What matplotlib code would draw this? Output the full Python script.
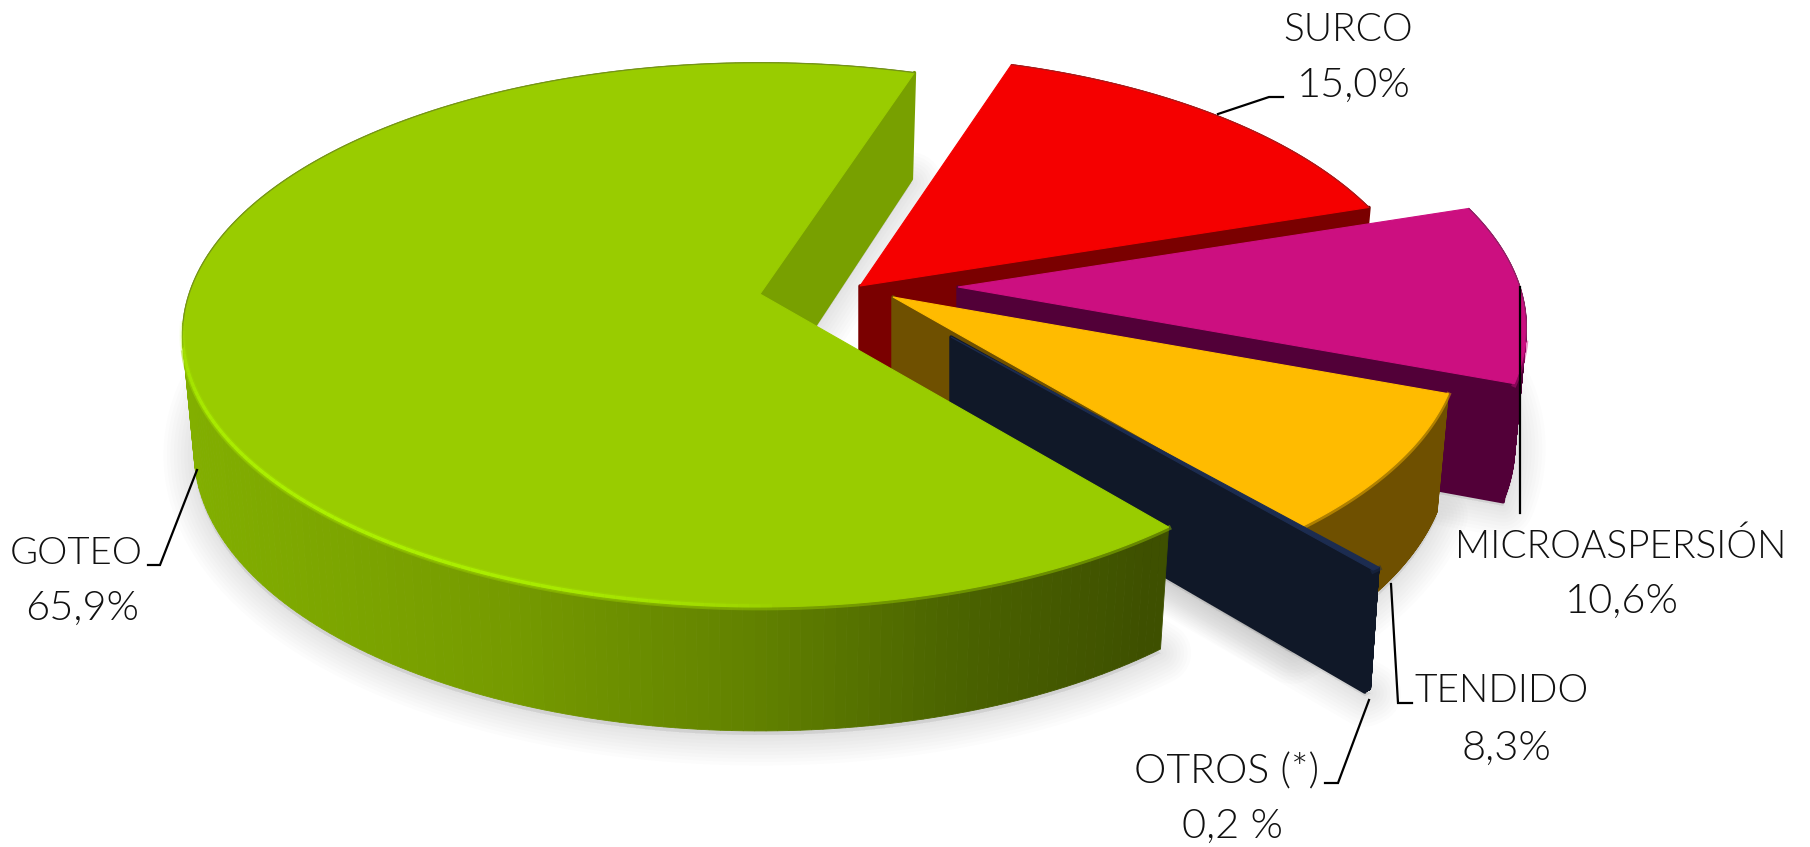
import numpy as np
import matplotlib
matplotlib.use('Agg')
import matplotlib.pyplot as plt
from matplotlib.patches import Polygon

# Data
names = ['SURCO', 'MICROASPERSIÓN', 'TENDIDO', 'OTROS (*)', 'GOTEO']
values = [15.0, 10.6, 8.3, 0.2, 65.9]
value_labels = ['15,0%', '10,6%', '8,3%', '0,2 %', '65,9%']

# Pie layout (pixels), one exploded apex per slice
start_angle = 18.0
apex_x = [860, 958, 893, 951, 760]
apex_y = [286, 287, 297, 337, 294]
radius = [560, 562, 561, 590, 571]
tilt = 266.0
persp = 0.15
bottom_scale = 0.98

top_colors = ['#f50000', '#cc0f80', '#ffbb00', '#1c2c50', '#99cc00']
wall_colors = ['#7a0000', '#520038', '#6f5000', '#101828', '#78a000']

# Goteo outer wall gets a left to right gradient
grad_x = [182, 500, 750, 950, 1150]
grad_r = [130, 118, 98, 75, 62]
grad_g = [175, 155, 130, 100, 80]

# Label anchors and leader lines
name_pos = [(1348, 30), (1621, 547), (1502, 691), (1227, 772), (76, 554)]
value_pos = [(1354, 85), (1622, 601), (1506, 748), (1232, 826), (82, 608)]
name_sizes = [28, 28, 28, 29.5, 27.5]
leaders = [
    [(1218, 114), (1269, 97), (1283, 97)],
    [(1520, 287), (1520, 513)],
    [(1391, 584), (1398, 703), (1412, 703)],
    [(1369, 700), (1338, 783), (1325, 783)],
    [(197, 470), (160, 565), (148, 565)],
]


def project(i, theta):
    # clockwise angle from the back of the pie, with a bit of perspective
    t = np.radians(theta)
    u, v = np.sin(t), np.cos(t)
    w = 1 / (1 + persp * v)
    x = apex_x[i] + radius[i] * u * w
    y = apex_y[i] - tilt * v * w
    return x, y


def depth(theta):
    return 115 - 9 * np.cos(np.radians(theta))


def lower(i, x):
    # bottom face is a little smaller than the top
    return apex_x[i] + (x - apex_x[i]) * bottom_scale


fig = plt.figure(figsize=(18.10, 8.47), dpi=100)
ax = fig.add_axes([0, 0, 1, 1])
ax.set_xlim(0, 1810)
ax.set_ylim(847, 0)
ax.axis('off')

# slice angles from the values
spans = np.array(values) * 3.6
ends = start_angle + np.cumsum(spans)
starts = ends - spans

# soft shadow, drawn first
for i in range(5):
    th = np.linspace(starts[i], ends[i], 150)
    x, y = project(i, th)
    xs = np.r_[apex_x[i], lower(i, x)]
    ys = np.r_[apex_y[i] + 115, y + depth(th)] + 4
    for lw in range(44, 3, -5):
        ax.add_patch(Polygon(np.c_[xs, ys], closed=True, fc=(.55, .55, .55, .022), ec=(.55, .55, .55, .022),
                             lw=lw, joinstyle='round', zorder=1))

for i in range(5):
    z = 2 + i
    th = np.linspace(starts[i], ends[i], 240)
    x, y = project(i, th)
    d = depth(th)
    xb = lower(i, x)

    # outer wall
    for k in range(len(th) - 1):
        if i == 4:
            xm = (x[k] + x[k + 1]) / 2
            col = (np.interp(xm, grad_x, grad_r) / 255, np.interp(xm, grad_x, grad_g) / 255, 0)
        else:
            col = wall_colors[i]
        ax.fill([x[k], x[k + 1], xb[k + 1], xb[k]], [y[k], y[k + 1], y[k + 1] + d[k + 1], y[k] + d[k]],
                color=col, lw=0.6, zorder=z)

    # cut face at the clockwise end of the slice
    ax.add_patch(Polygon([(apex_x[i], apex_y[i]), (x[-1], y[-1]), (xb[-1], y[-1] + d[-1]),
                          (apex_x[i], apex_y[i] + 115)], closed=True, fc=wall_colors[i], ec=wall_colors[i],
                         lw=2.5, joinstyle='round', zorder=z))

    # blurred edge where the front of the top face meets the wall
    front = np.cos(np.radians(th)) < -0.2
    if front.any():
        ax.plot(x[front], y[front] + 1, color=top_colors[i], lw=3.5, alpha=0.45, zorder=z)

    # top face
    ax.fill(np.r_[apex_x[i], x], np.r_[apex_y[i], y], color=top_colors[i], lw=0.8, zorder=z)

    # thin dark line along the back of the rim
    back = np.cos(np.radians(th)) > -0.2
    ax.plot(x[back], y[back], color='#404040', lw=0.9, alpha=0.4, zorder=z)

# bright bevel on the front left of the goteo rim, fading at both ends
th = np.linspace(178, 264, 90)
x, y = project(4, th)
fade = np.sin(np.linspace(0, np.pi, len(th))) ** 0.6
for k in range(len(th) - 1):
    ax.plot(x[k:k + 2], y[k:k + 2] - 1, color='#acf000', lw=4.5, alpha=0.25 * fade[k],
            solid_capstyle='butt', zorder=7)
    ax.plot(x[k:k + 2], y[k:k + 2] - 1, color='#acf000', lw=2.5, alpha=fade[k],
            solid_capstyle='butt', zorder=7)

# leaders and text on top
for pts in leaders:
    pts = np.array(pts)
    ax.plot(pts[:, 0], pts[:, 1], color='black', lw=1.6, zorder=8, solid_joinstyle='miter')

for i in range(5):
    ax.text(name_pos[i][0], name_pos[i][1], names[i], family='Lato', weight=300, fontsize=name_sizes[i],
            ha='center', va='center', color='#111111', zorder=9)
    ax.text(value_pos[i][0], value_pos[i][1], value_labels[i], family='Lato', weight=300, fontsize=30,
            ha='center', va='center', color='#111111', zorder=9)

plt.savefig('out.png', dpi=100)
